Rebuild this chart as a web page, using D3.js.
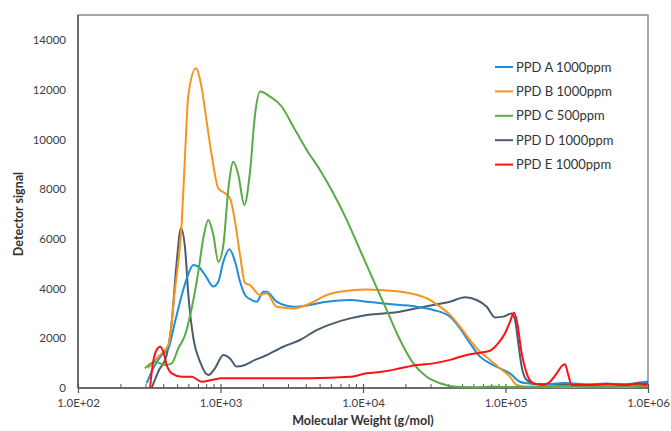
<!DOCTYPE html>
<html>
<head>
<meta charset="utf-8">
<script src="https://cdn.jsdelivr.net/npm/d3@7"></script>
<style>
html,body{margin:0;padding:0;background:#fff;}
svg{display:block;}
text{font-family:Lato,"Open Sans","Liberation Sans",sans-serif;}
</style>
</head>
<body>
<svg id="chart" width="671" height="431"></svg>
<script>
// ---- data ----
const xTickLabels = ["1.0E+02","1.0E+03","1.0E+04","1.0E+05","1.0E+06"];
const yTickValues = [0,2000,4000,6000,8000,10000,12000,14000];
const seriesNames = ["PPD A 1000ppm","PPD B 1000ppm","PPD C 500ppm","PPD D 1000ppm","PPD E 1000ppm"];
const seriesColors = ["#1e8fdb","#f8931f","#5aab45","#4b5c71","#ff1111"];

const mwA = [303,337,387,431,480,535,580,645,699,778,890,966,1047,1154,1265,1371,1486,1656,1794,1996,2108,2477,3243,4248,5559,8115,10620,13880,18200,23820,31180,40800,47960,56350,66230,77850,91410,107600,126400,140800,184200,260000,390000,510000,670000,880000,1000000];
const sigA = [190,790,1330,1600,2670,3740,4410,4950,4880,4550,4080,4280,5080,5580,5080,4280,3740,3540,3470,3870,3870,3470,3270,3340,3470,3540,3470,3400,3340,3270,3140,2870,2400,1800,1260,990,790,590,250,190,150,200,150,180,150,220,260];

const mwB = [310,376,431,480,535,564,595,673,738,800,867,966,1076,1166,1265,1371,1486,1611,1893,2108,2477,3243,4248,5559,8115,10620,13880,21380,27990,34700,40800,47960,56350,66230,77850,91410,107600,119800,140800,200000,300000,500000,700000,1000000];
const sigB = [800,1330,1730,4000,6690,9370,11790,12860,12060,10710,9370,8030,7830,7630,6690,5350,4220,4140,3740,3810,3270,3200,3400,3740,3920,3960,3930,3810,3610,3270,2940,2470,1930,1460,1130,790,450,120,50,60,40,60,50,80];

const mwC = [295,347,408,455,506,564,628,699,757,821,890,966,1047,1136,1231,1334,1469,1611,1746,1893,2223,2686,3243,4027,4991,6193,7690,9531,11810,14660,18200,22550,27990,34700,45000,60000,80000,100000,150000,250000,400000,600000,1000000];
const sigC = [790,1060,925,990,1600,2130,3210,4680,6020,6760,6160,5080,5750,8030,9100,8570,7360,8700,10980,11920,11720,11320,10510,9570,8770,7830,6760,5550,4340,3140,1930,990,450,190,50,30,60,40,50,80,50,70,100];

const mwD = [329,366,419,455,493,528,564,595,645,718,821,914,1047,1166,1300,1486,1746,1996,2758,3611,4732,6193,8115,10620,13880,18200,23820,31180,40800,52000,62800,73800,84370,96500,110500,116600,123000,129800,140800,161000,250000,400000,600000,800000,1000000];
const sigD = [0,660,1330,2670,5080,6420,5620,3740,2000,1060,520,790,1330,1190,860,925,1130,1260,1660,1930,2330,2600,2800,2940,3000,3070,3210,3340,3470,3650,3540,3270,2840,2870,3000,2740,1800,860,320,160,150,120,150,130,200];

const mwE = [320,337,356,376,397,419,455,535,628,738,867,1019,1409,1945,2758,4248,8115,10620,13880,18200,23820,31180,40800,53460,66230,77850,88980,99200,107600,114700,120950,129800,140800,156800,184200,205300,228800,247800,261600,276000,291600,391900,513200,671300,878800,953000,1000000];
const sigE = [0,1060,1530,1660,1460,925,590,450,450,250,320,390,390,390,390,390,450,590,660,790,925,990,1130,1330,1420,1500,1800,2200,2670,3040,2600,1400,590,190,120,250,590,880,960,520,120,120,160,120,190,120,200];

const mws = [mwA,mwB,mwC,mwD,mwE];
const sigs = [sigA,sigB,sigC,sigD,sigE];

// ---- layout ----
const L = 78, R = 648, T = 15, B = 388;
const svg = d3.select("#chart");

const x = d3.scaleLog().domain([1e2,1e6]).range([L,R]);
const y = d3.scaleLinear().domain([0,15000]).range([B,T]);

// frame
svg.append("rect").attr("x",L).attr("y",T).attr("width",R-L).attr("height",B-T)
  .attr("fill","none").attr("stroke","#8c8c8c").attr("stroke-width",1.5);

// y labels (no tick marks)
const yAxis = d3.axisLeft(y).tickValues(yTickValues).tickSize(0).tickPadding(12).tickFormat(d3.format("d"));
const gy = svg.append("g").attr("transform",`translate(${L},0)`).call(yAxis);
gy.select(".domain").remove();
gy.selectAll("text").attr("font-size",11.5).attr("fill","#404040");

// x axis: major ticks crossing, minor ticks inside
const majors = [1e2,1e3,1e4,1e5,1e6];
const minors = [];
for (let e=2;e<6;e++) for (let k=2;k<10;k++) minors.push(k*Math.pow(10,e));
const xAxis = d3.axisBottom(x).tickValues(majors).tickSize(5).tickPadding(6)
  .tickFormat((d,i)=>xTickLabels[i]);
const gx = svg.append("g").attr("transform",`translate(0,${B})`).call(xAxis);
gx.select(".domain").remove();
gx.selectAll(".tick line").attr("y1",-4).attr("stroke","#555").attr("stroke-width",1.2);
gx.selectAll("text").attr("font-size",11.5).attr("fill","#404040");
svg.append("g").selectAll("line").data(minors).join("line")
  .attr("x1",d=>x(d)).attr("x2",d=>x(d)).attr("y1",B-4).attr("y2",B)
  .attr("stroke","#555").attr("stroke-width",1);

// axis lines (darker)
svg.append("line").attr("x1",L).attr("x2",L).attr("y1",T).attr("y2",B).attr("stroke","#5a5a5a").attr("stroke-width",1.5);
svg.append("line").attr("x1",L).attr("x2",R).attr("y1",B).attr("y2",B).attr("stroke","#5a5a5a").attr("stroke-width",1.5);

// series
svg.append("clipPath").attr("id","clip").append("rect").attr("x",L).attr("y",T).attr("width",R-L).attr("height",B-T+1);
const line = d3.line().x(d=>x(d[0])).y(d=>y(d[1])).curve(d3.curveMonotoneX);
const gLines = svg.append("g").attr("clip-path","url(#clip)");
[3,0,1,2,4].forEach(i=>{
  const pts = mws[i].map((m,j)=>[m,sigs[i][j]]);
  gLines.append("path").datum(pts).attr("d",line).attr("fill","none")
    .attr("stroke",seriesColors[i]).attr("stroke-width",2).attr("stroke-linejoin","round");
});

// legend
const lg = svg.append("g");
seriesNames.forEach((n,i)=>{
  const yy = 67 + i*24.4;
  lg.append("line").attr("x1",495).attr("x2",513).attr("y1",yy).attr("y2",yy)
    .attr("stroke",seriesColors[i]).attr("stroke-width",2);
  lg.append("text").attr("x",516).attr("y",yy).attr("dy","0.35em")
    .attr("font-size",13).attr("fill","#333").text(n);
});

// axis titles
svg.append("text").attr("x",363).attr("y",425).attr("text-anchor","middle")
  .attr("font-size",12.5).attr("font-weight","bold").attr("fill","#333").text("Molecular Weight (g/mol)");
svg.append("text").attr("transform","translate(23,214) rotate(-90)").attr("text-anchor","middle")
  .attr("font-size",12.5).attr("font-weight","bold").attr("fill","#333").text("Detector signal");
</script>
</body>
</html>
